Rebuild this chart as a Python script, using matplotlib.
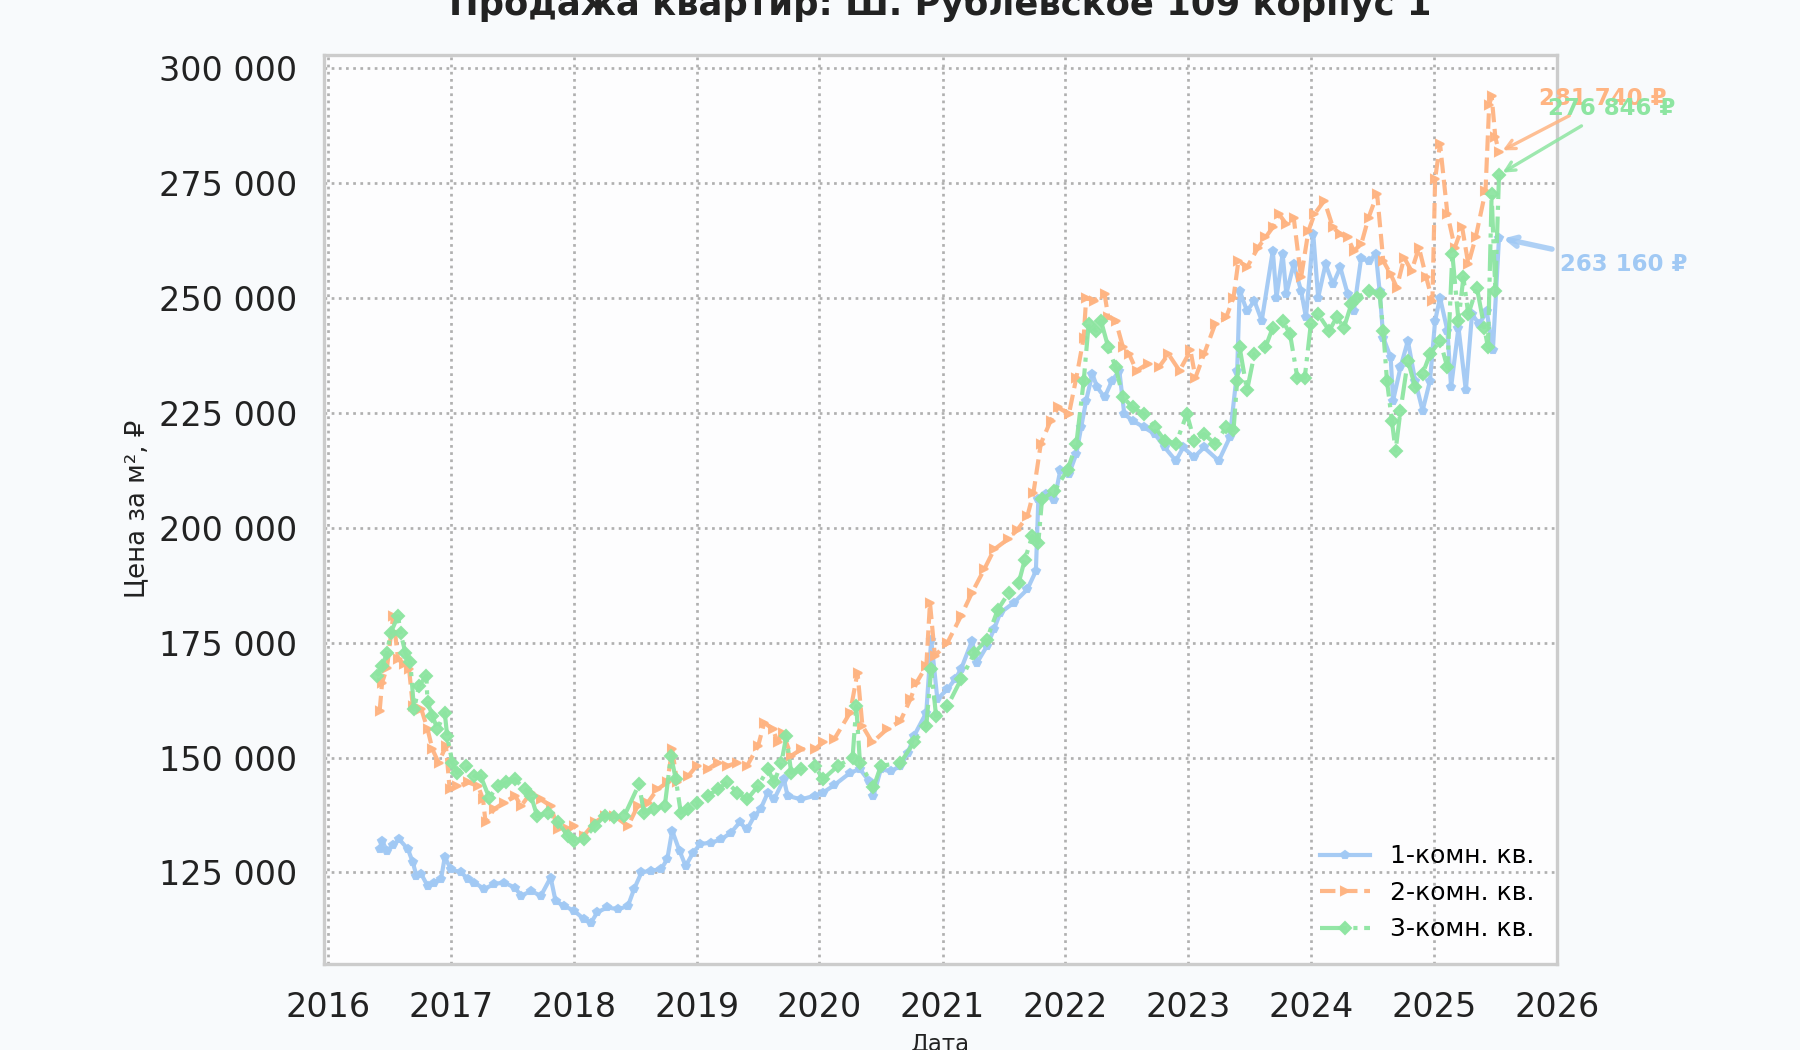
import matplotlib
matplotlib.use("Agg")
import matplotlib.pyplot as plt
import matplotlib.dates as mdates
from matplotlib.ticker import FuncFormatter, MultipleLocator
from datetime import datetime, timedelta

# 1-комн. кв. (год в долях, цена тыс. руб. за м2)
t1 = [2016.42, 2016.44, 2016.48, 2016.53, 2016.58, 2016.65, 2016.69, 2016.72, 2016.76, 2016.81,
      2016.86, 2016.92, 2016.95, 2017.00, 2017.08, 2017.14, 2017.19, 2017.27, 2017.35, 2017.43,
      2017.52, 2017.57, 2017.65, 2017.73, 2017.81, 2017.85, 2017.92, 2018.00, 2018.08, 2018.14,
      2018.19, 2018.27, 2018.36, 2018.44, 2018.49, 2018.55, 2018.63, 2018.71, 2018.76, 2018.80,
      2018.86, 2018.91, 2018.97, 2019.03, 2019.12, 2019.20, 2019.28, 2019.35, 2019.41, 2019.47,
      2019.52, 2019.58, 2019.63, 2019.71, 2019.74, 2019.85, 2019.96, 2020.03, 2020.12, 2020.25,
      2020.33, 2020.40, 2020.44, 2020.50, 2020.58, 2020.66, 2020.72, 2020.77, 2020.87, 2020.91,
      2020.96, 2021.04, 2021.10, 2021.15, 2021.24, 2021.28, 2021.36, 2021.42, 2021.47, 2021.58,
      2021.69, 2021.76, 2021.78, 2021.84, 2021.91, 2021.96, 2022.03, 2022.09, 2022.13, 2022.17,
      2022.22, 2022.26, 2022.32, 2022.38, 2022.44, 2022.48, 2022.55, 2022.64, 2022.73, 2022.81,
      2022.90, 2022.96, 2023.05, 2023.13, 2023.25, 2023.34, 2023.40, 2023.42, 2023.48, 2023.54,
      2023.60, 2023.69, 2023.72, 2023.77, 2023.80, 2023.86, 2023.92, 2023.96, 2024.02, 2024.06,
      2024.12, 2024.18, 2024.24, 2024.30, 2024.35, 2024.41, 2024.47, 2024.53, 2024.56, 2024.59,
      2024.65, 2024.67, 2024.73, 2024.79, 2024.85, 2024.91, 2024.97, 2025.01, 2025.05, 2025.11,
      2025.14, 2025.20, 2025.26, 2025.31, 2025.37, 2025.43, 2025.48, 2025.53]
v1 = [130.1, 131.9, 129.7, 131.0, 132.2, 130.1, 127.2, 124.3, 124.6, 122.1,
      122.8, 123.6, 128.3, 125.7, 125.0, 123.6, 122.8, 121.4, 122.5, 122.8,
      121.7, 119.9, 121.0, 119.9, 123.9, 118.8, 117.7, 116.7, 114.9, 114.1,
      116.3, 117.4, 117.0, 117.7, 121.4, 125.0, 125.4, 125.7, 127.9, 134.1,
      129.7, 126.4, 129.3, 131.2, 131.5, 132.2, 133.7, 135.9, 134.4, 137.3,
      138.8, 142.4, 140.9, 145.3, 141.7, 140.9, 141.7, 142.4, 144.0, 146.7,
      147.5, 145.0, 141.7, 147.5, 147.0, 148.2, 151.0, 154.7, 159.8, 175.7,
      162.7, 164.9, 167.0, 169.2, 175.4, 170.6, 174.2, 178.0, 181.5, 183.7,
      186.6, 190.6, 206.2, 207.4, 206.0, 212.7, 211.7, 216.1, 222.0, 227.7,
      233.5, 230.6, 228.4, 232.0, 234.2, 224.8, 223.3, 221.9, 220.4, 217.5,
      214.6, 217.5, 215.4, 217.5, 214.6, 219.7, 234.2, 251.6, 247.2, 249.4,
      245.1, 260.3, 250.1, 259.6, 250.9, 257.4, 251.6, 245.8, 263.9, 250.1,
      257.4, 253.0, 256.7, 250.9, 247.2, 258.8, 258.0, 259.6, 251.6, 241.4,
      237.1, 227.7, 234.9, 240.7, 232.0, 225.5, 232.0, 245.1, 250.1, 242.9,
      230.6, 243.6, 229.9, 246.5, 244.3, 247.2, 238.6, 263.16]

# 2-комн. кв.
t2 = [2016.42, 2016.44, 2016.48, 2016.53, 2016.57, 2016.62, 2016.66, 2016.69, 2016.76, 2016.81,
      2016.85, 2016.90, 2016.96, 2016.99, 2017.05, 2017.14, 2017.22, 2017.26, 2017.28, 2017.35,
      2017.43, 2017.52, 2017.57, 2017.65, 2017.73, 2017.81, 2017.87, 2017.95, 2018.00, 2018.08,
      2018.17, 2018.25, 2018.33, 2018.44, 2018.52, 2018.60, 2018.68, 2018.76, 2018.80, 2018.84,
      2018.93, 2019.00, 2019.09, 2019.17, 2019.25, 2019.33, 2019.41, 2019.50, 2019.55, 2019.62,
      2019.66, 2019.70, 2019.77, 2019.85, 2019.96, 2020.03, 2020.12, 2020.25, 2020.31, 2020.35,
      2020.43, 2020.55, 2020.66, 2020.74, 2020.79, 2020.87, 2020.90, 2020.94, 2021.04, 2021.15,
      2021.24, 2021.34, 2021.42, 2021.53, 2021.61, 2021.69, 2021.74, 2021.80, 2021.88, 2021.94,
      2022.03, 2022.09, 2022.15, 2022.17, 2022.23, 2022.32, 2022.35, 2022.41, 2022.47, 2022.52,
      2022.58, 2022.67, 2022.76, 2022.84, 2022.93, 2023.02, 2023.06, 2023.13, 2023.22, 2023.31,
      2023.37, 2023.41, 2023.48, 2023.57, 2023.63, 2023.69, 2023.74, 2023.80, 2023.86, 2023.92,
      2023.98, 2024.03, 2024.11, 2024.18, 2024.24, 2024.30, 2024.35, 2024.41, 2024.47, 2024.54,
      2024.59, 2024.65, 2024.70, 2024.76, 2024.82, 2024.88, 2024.94, 2024.99, 2025.01, 2025.05,
      2025.11, 2025.17, 2025.23, 2025.28, 2025.34, 2025.42, 2025.45, 2025.47, 2025.50, 2025.53]
v2 = [160.1, 166.3, 169.6, 180.8, 171.4, 170.3, 169.2, 161.2, 160.5, 156.2,
      151.8, 148.9, 152.5, 143.1, 143.8, 144.6, 143.8, 140.9, 135.9, 138.8,
      140.2, 141.7, 139.5, 142.4, 140.9, 139.5, 134.4, 134.4, 135.1, 133.0,
      135.9, 137.3, 137.3, 135.1, 139.5, 140.2, 143.1, 144.6, 151.8, 144.6,
      146.0, 148.2, 147.5, 148.9, 148.2, 148.9, 148.2, 152.5, 157.6, 156.2,
      153.3, 155.4, 150.4, 151.8, 151.8, 153.3, 154.0, 159.8, 168.5, 156.9,
      153.3, 156.2, 158.0, 162.7, 166.3, 169.9, 183.7, 172.1, 175.0, 180.8,
      185.9, 191.0, 195.3, 197.5, 199.6, 202.5, 207.6, 218.3, 223.3, 226.2,
      224.8, 232.7, 241.4, 250.1, 249.4, 250.9, 245.8, 245.1, 239.3, 237.8,
      234.2, 235.7, 234.9, 237.8, 234.2, 238.6, 232.7, 237.8, 244.3, 245.8,
      250.1, 258.1, 256.7, 261.0, 263.2, 265.4, 268.3, 266.1, 267.5, 254.5,
      264.6, 268.3, 271.2, 265.4, 263.9, 263.2, 260.3, 261.7, 267.5, 272.6,
      258.1, 255.2, 252.3, 258.8, 255.9, 261.0, 254.5, 249.4, 276.0, 283.5,
      268.3, 261.0, 265.4, 257.4, 263.2, 273.3, 292.0, 294.0, 285.0, 281.74]

# 3-комн. кв.
t3 = [2016.40, 2016.44, 2016.48, 2016.51, 2016.57, 2016.59, 2016.63, 2016.67, 2016.70, 2016.74,
      2016.80, 2016.81, 2016.85, 2016.89, 2016.95, 2016.97, 2017.01, 2017.05, 2017.12, 2017.19,
      2017.24, 2017.31, 2017.38, 2017.45, 2017.52, 2017.60, 2017.65, 2017.70, 2017.79, 2017.87,
      2017.95, 2018.00, 2018.08, 2018.17, 2018.25, 2018.33, 2018.41, 2018.53, 2018.57, 2018.65,
      2018.74, 2018.79, 2018.83, 2018.87, 2018.93, 2019.00, 2019.09, 2019.17, 2019.25, 2019.33,
      2019.41, 2019.50, 2019.58, 2019.63, 2019.69, 2019.73, 2019.77, 2019.85, 2019.96, 2020.03,
      2020.15, 2020.27, 2020.30, 2020.33, 2020.44, 2020.50, 2020.66, 2020.77, 2020.87, 2020.91,
      2020.95, 2021.04, 2021.15, 2021.26, 2021.36, 2021.45, 2021.54, 2021.62, 2021.67, 2021.73,
      2021.78, 2021.81, 2021.91, 2022.02, 2022.09, 2022.15, 2022.19, 2022.25, 2022.29, 2022.35,
      2022.41, 2022.47, 2022.55, 2022.64, 2022.73, 2022.81, 2022.90, 2022.99, 2023.05, 2023.13,
      2023.22, 2023.31, 2023.37, 2023.40, 2023.42, 2023.48, 2023.54, 2023.63, 2023.69, 2023.77,
      2023.83, 2023.89, 2023.95, 2024.00, 2024.06, 2024.15, 2024.21, 2024.27, 2024.33, 2024.38,
      2024.47, 2024.56, 2024.59, 2024.62, 2024.66, 2024.69, 2024.73, 2024.79, 2024.85, 2024.91,
      2024.97, 2025.05, 2025.11, 2025.15, 2025.20, 2025.24, 2025.28, 2025.35, 2025.41, 2025.44,
      2025.47, 2025.50, 2025.53]
v3 = [167.8, 169.9, 172.8, 177.2, 180.8, 177.2, 172.8, 170.7, 160.5, 165.6,
      167.8, 162.0, 159.1, 156.2, 159.8, 154.7, 148.9, 146.7, 148.2, 146.0,
      146.0, 141.3, 143.8, 144.6, 145.3, 143.1, 141.7, 137.3, 138.0, 135.9,
      133.0, 131.9, 132.2, 135.1, 137.3, 137.0, 137.3, 144.2, 138.0, 138.8,
      139.5, 150.4, 145.3, 138.0, 138.8, 140.2, 141.7, 143.1, 144.6, 142.4,
      140.9, 143.8, 147.5, 144.6, 148.9, 154.7, 146.7, 147.5, 148.2, 145.3,
      148.2, 150.0, 161.2, 148.9, 143.5, 148.2, 148.9, 153.3, 156.9, 169.2,
      159.0, 161.2, 167.0, 172.8, 175.7, 182.2, 185.9, 188.0, 193.1, 198.2,
      196.8, 206.2, 208.0, 212.7, 218.3, 232.0, 244.3, 242.9, 245.1, 239.3,
      234.9, 228.4, 226.2, 224.8, 221.9, 219.0, 218.3, 224.8, 219.0, 220.4,
      218.3, 221.9, 221.2, 232.0, 239.3, 229.9, 237.8, 239.3, 243.6, 245.1,
      242.2, 232.7, 232.7, 244.3, 246.5, 242.9, 245.8, 243.6, 248.7, 250.1,
      251.6, 250.9, 242.9, 232.0, 223.3, 216.8, 225.5, 236.4, 230.6, 233.5,
      237.8, 240.7, 234.9, 259.6, 245.1, 254.5, 246.5, 252.3, 243.6, 239.3,
      272.6, 251.6, 276.846]

labels = ["1-комн. кв.", "2-комн. кв.", "3-комн. кв."]
colors = ["#a1c9f4", "#ffb482", "#8de5a1"]
title = "Продажа квартир: Ш. Рублевское 109 корпус 1"


def to_dates(years):
    out = []
    for y in years:
        out.append(datetime(int(y), 1, 1) + timedelta(days=(y - int(y)) * 365.25))
    return out


def fmt_space(x, pos=None):
    return f"{x:,.0f}".replace(",", " ")


fig = plt.figure(figsize=(12, 7), dpi=150, facecolor="#f8fafc")
ax = fig.add_axes([0.18, 0.082, 0.685, 0.866])
ax.set_facecolor("#fdfdfe")

series = [(t1, v1, "-", "p"), (t2, v2, "--", ">"), (t3, v3, "-.", "D")]
offsets = [(60, -13), (50, 26), (54, 32)]
arrow_lw = [2.6, 1.6, 1.6]
for (t, v, ls, mk), lab, col, off, alw in zip(series, labels, colors, offsets, arrow_lw):
    d = to_dates(t)
    vals = [x * 1000 for x in v]
    ax.plot(d, vals, linestyle=ls, marker=mk, markersize=4, linewidth=2,
            color=col, label=lab, alpha=0.95)
    ax.annotate(fmt_space(vals[-1]) + " ₽", xy=(d[-1], vals[-1]),
                xytext=off, textcoords="offset points", ha="center", va="center",
                fontsize=11, fontweight="bold", color=col,
                arrowprops=dict(arrowstyle="->", color=col, lw=alw, alpha=0.85))

ax.set_xlim(datetime(2015, 12, 20), datetime(2026, 1, 2))
ax.xaxis.set_major_locator(mdates.YearLocator())
ax.xaxis.set_major_formatter(mdates.DateFormatter("%Y"))
ax.yaxis.set_major_locator(MultipleLocator(25000))
ax.yaxis.set_major_formatter(FuncFormatter(fmt_space))
ax.tick_params(axis="both", labelsize=16, length=0, pad=13, labelcolor="#222222")

ax.grid(True, linestyle=":", color="#b0b0b0", linewidth=1.3)
for s in ax.spines.values():
    s.set_color("#cccccc")
    s.set_linewidth(1.6)

ax.set_title(title, fontsize=17, fontweight="bold", pad=19, color="#222222")
ax.set_xlabel("Дата", fontsize=11, color="#222222")
ax.set_ylabel("Цена за м², ₽", fontsize=12.5, color="#222222")
ax.legend(loc="lower right", frameon=False, fontsize=12)

fig.savefig("out.png", dpi=150, facecolor=fig.get_facecolor())
